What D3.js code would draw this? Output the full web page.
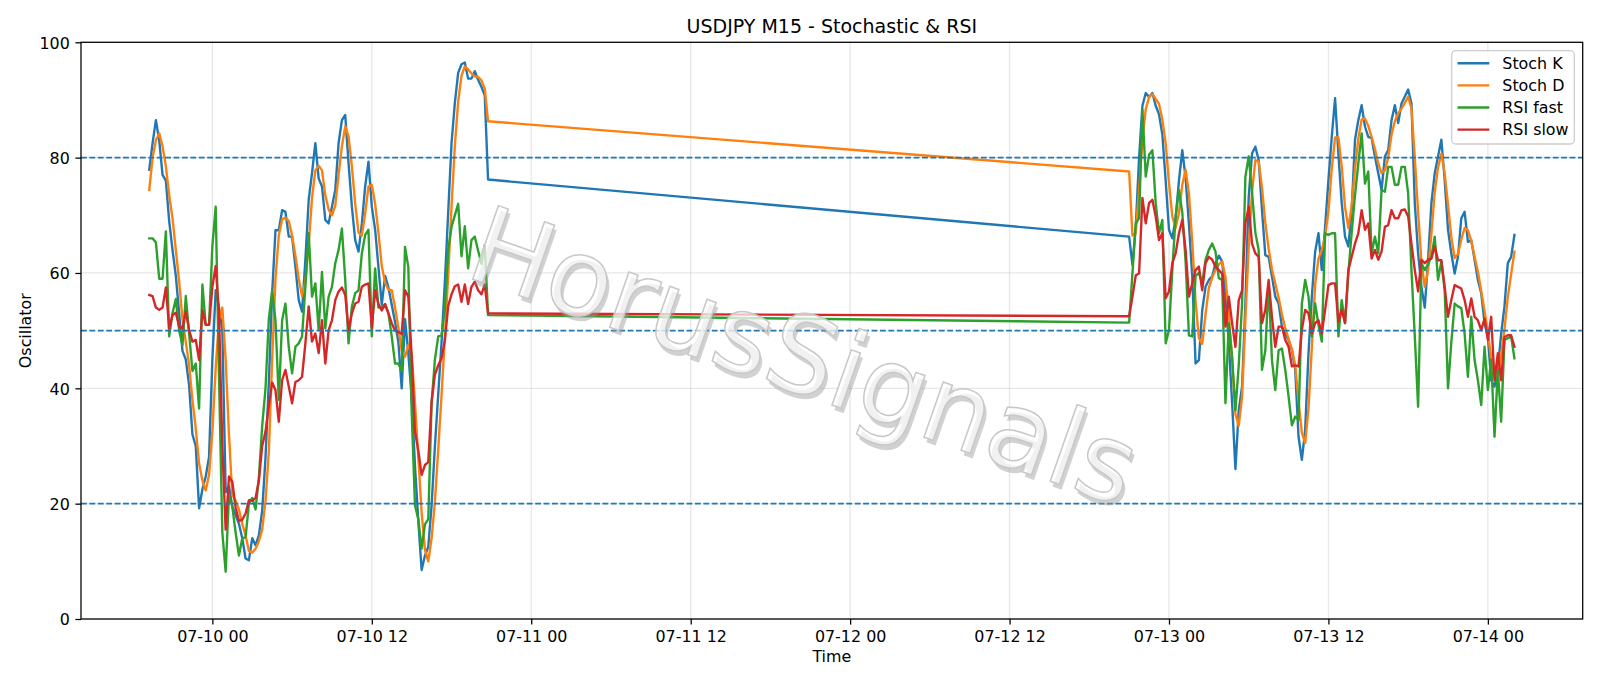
<!DOCTYPE html>
<html><head><meta charset="utf-8">
<script src="https://cdn.jsdelivr.net/npm/d3@7"></script>
<style>
body{margin:0;background:#fff}
svg{display:block}
text{font-family:"DejaVu Sans",sans-serif;fill:#000}
</style></head>
<body><svg id="chart" width="1600" height="686"></svg>
<script>
// ---- data (M15 bars; weekend gap between the two sessions) ----
const sessionStarts = ["2026-07-09T19:15:00Z", "2026-07-12T21:00:00Z"];
const sessionBars = [103, 117];

const stochK = [
77.9,82.5,86.5,83.0,77.0,76.0,69.0,64.0,59.5,53.0,46.5,45.0,40.5,32.0,30.0,19.2,22.5,24.7,28.1,45.0,
57.0,54.0,50.0,22.0,23.0,19.5,18.0,16.5,14.0,10.5,10.2,14.0,12.8,14.5,18.8,28.0,41.0,56.5,67.4,67.4,
70.9,70.6,66.3,66.3,61.1,55.3,53.3,62.3,72.7,77.3,82.5,76.4,75.0,69.2,68.6,71.5,74.4,82.5,86.5,87.4,
79.0,71.5,65.7,63.7,68.5,75.0,79.3,71.5,67.5,61.0,54.5,59.5,57.5,54.5,51.5,48.0,40.0,52.0,46.0,38.5,
26.5,17.0,8.5,11.0,12.5,19.7,30.0,39.0,48.0,58.5,70.5,82.5,89.5,94.7,96.2,96.5,93.7,93.7,95.0,93.5,
92.3,90.8,76.2,
66.3,61.4,68.0,80.0,89.0,91.2,90.5,91.2,89.0,87.5,84.0,76.0,67.5,66.0,69.5,76.0,81.3,76.5,68.5,59.5,
44.3,44.9,53.5,57.6,58.8,59.4,61.7,63.0,62.0,56.0,48.0,37.5,26.0,36.2,40.3,54.7,73.2,80.7,81.9,79.6,
70.9,63.1,62.8,59.4,55.9,54.7,50.7,49.5,48.4,46.6,43.2,31.6,27.6,32.8,46.1,55.9,63.7,66.9,60.5,68.0,
76.1,83.6,90.3,80.7,72.1,66.3,64.6,70.9,83.1,86.5,89.1,85.4,83.6,83.4,80.2,77.3,74.4,80.2,81.3,86.5,
89.1,86.0,89.4,90.6,91.8,89.4,72.1,63.4,57.6,54.0,62.3,72.1,77.3,80.2,83.1,76.1,67.5,63.4,59.9,62.8,
69.5,70.6,65.4,65.7,62.3,58.8,56.5,51.3,49.0,41.4,40.3,43.2,49.5,54.2,61.7,62.8,66.6];

const stochD = [
74.4,80.0,83.0,84.2,82.0,78.5,73.5,69.5,64.0,58.5,52.0,48.0,44.0,38.0,33.0,27.0,24.0,22.3,25.0,32.5,
43.5,52.0,54.0,45.0,32.0,21.5,20.5,19.0,16.5,14.5,11.8,11.5,12.2,13.5,15.5,20.5,29.0,45.0,59.0,66.5,
69.3,69.6,69.0,66.5,63.0,59.0,56.0,58.5,65.0,73.0,77.8,78.6,77.8,73.5,71.0,70.0,71.7,77.0,82.0,85.4,
83.7,78.5,72.0,67.0,66.5,70.3,75.0,75.3,72.0,67.0,61.2,58.3,57.1,57.0,54.0,50.5,46.5,45.5,47.5,46.0,
37.5,28.0,18.5,12.0,10.0,14.0,20.3,29.4,38.8,49.0,59.6,71.5,82.0,89.7,94.2,95.8,95.3,94.6,94.1,94.0,
93.4,92.0,86.3,
77.6,66.5,67.0,74.5,83.0,88.4,90.5,91.0,90.2,89.3,86.6,82.5,75.6,69.8,67.8,70.4,75.3,77.9,73.8,65.5,
55.0,48.7,47.7,52.8,57.4,59.2,60.5,61.5,62.0,59.3,53.0,45.0,35.5,33.5,38.5,52.0,64.5,74.0,79.6,79.3,
74.8,68.7,64.2,60.6,58.2,55.7,52.8,50.5,48.6,46.8,44.0,37.8,32.3,30.5,36.5,47.0,58.0,62.5,64.0,66.3,
70.7,78.0,83.5,83.5,78.5,71.4,67.8,71.7,78.0,83.3,86.6,86.8,85.5,83.6,81.5,79.0,77.3,77.8,80.0,84.0,
86.3,87.7,88.5,89.5,90.6,88.5,80.0,70.5,62.0,57.6,60.4,66.8,74.0,78.3,80.7,77.3,71.8,66.2,62.6,63.3,
65.8,67.8,67.4,65.6,62.8,60.2,56.9,53.4,49.7,45.2,42.5,42.1,45.8,50.2,55.8,59.8,63.7];

const rsiFast = [
66.0,66.0,65.3,59.0,59.0,67.2,49.0,53.0,55.5,50.0,47.5,56.0,49.5,43.0,44.3,36.5,58.0,51.0,51.0,64.6,
71.5,42.0,15.0,8.2,21.5,19.5,15.0,11.0,14.0,14.2,20.0,21.0,19.0,24.5,33.5,40.0,52.0,57.0,51.8,38.0,
51.8,54.7,47.2,42.6,47.2,47.8,49.0,57.6,66.9,55.9,58.2,50.1,60.2,50.4,55.9,57.6,61.7,64.0,67.7,58.8,
47.8,54.2,56.5,57.0,63.4,66.6,67.5,49.0,60.8,54.0,54.0,54.6,53.0,49.0,44.3,44.3,43.0,64.5,61.0,36.0,
19.7,17.3,12.2,16.4,17.3,37.5,45.0,49.0,49.2,53.8,64.0,68.0,70.0,72.0,62.9,68.1,60.8,65.7,66.3,63.9,
61.6,64.8,52.7,
51.4,60.0,68.6,69.5,88.3,76.7,80.5,81.3,72.1,66.9,69.2,47.8,50.1,60.5,69.8,74.4,70.5,62.0,49.2,49.0,
59.5,60.0,58.2,62.3,64.0,65.1,63.7,59.1,58.8,37.4,51.3,45.5,36.2,44.0,54.7,76.7,80.2,74.0,67.0,64.0,
43.2,46.6,58.2,44.9,39.7,46.6,46.9,43.2,38.6,33.6,35.1,34.5,54.7,58.8,55.9,49.0,54.7,51.0,48.1,66.9,
66.6,66.9,66.9,49.0,55.3,51.3,60.0,67.0,73.5,79.0,84.2,75.5,77.6,63.4,66.3,63.4,74.4,74.1,78.4,78.4,
75.3,75.3,78.4,78.4,73.8,60.5,49.0,36.8,61.7,60.5,61.5,62.8,66.3,58.8,62.0,57.0,40.0,48.0,54.7,54.2,
53.9,49.5,42.0,52.4,44.9,41.4,37.1,47.2,39.7,45.0,31.6,43.2,34.2,48.4,48.7,49.0,45.2];

const rsiSlow = [
56.2,56.0,54.0,53.6,54.0,57.5,50.4,52.7,53.1,50.7,50.4,53.3,50.1,48.1,48.4,44.9,53.6,51.0,51.0,57.6,
61.2,53.0,30.0,15.5,24.7,23.8,19.3,17.0,17.2,18.3,20.6,20.5,21.0,24.0,30.0,32.5,37.0,41.0,39.7,34.2,
41.4,43.2,40.3,37.4,41.1,41.4,42.0,47.8,54.2,48.1,49.5,46.1,51.8,44.3,50.1,51.8,55.3,56.8,57.5,56.2,
50.1,53.0,54.7,55.0,57.6,58.0,58.2,50.5,57.0,54.6,53.5,54.6,53.0,51.3,50.0,49.8,49.4,57.0,55.9,45.7,
32.5,29.2,25.0,26.7,27.2,37.6,42.4,44.0,45.2,48.3,54.3,56.3,57.7,58.0,55.0,58.0,54.6,57.6,58.5,57.0,
56.3,58.0,53.0,
52.5,55.9,59.6,59.9,73.0,68.6,72.1,72.7,69.8,65.7,66.9,55.6,56.8,61.7,63.4,66.9,69.2,64.0,55.9,58.2,
60.5,61.1,57.0,61.7,62.8,62.3,61.1,60.5,59.9,50.7,55.9,51.3,47.2,55.3,57.0,68.6,71.5,65.1,63.4,62.8,
51.3,53.6,58.8,52.4,47.2,50.7,50.7,48.4,47.2,43.8,44.0,43.8,50.1,53.6,53.0,49.5,51.3,51.8,49.5,53.6,
57.9,58.2,58.2,51.5,53.6,51.3,60.5,62.8,65.1,66.9,70.9,67.5,68.6,62.5,64.0,62.3,63.7,68.0,68.3,70.9,
69.5,69.5,70.9,71.0,69.8,65.1,60.5,56.8,62.3,61.7,62.3,62.5,64.6,62.2,62.2,57.6,52.4,55.3,57.9,57.6,
57.3,55.3,52.4,55.6,52.4,51.8,50.1,52.1,48.4,52.4,41.4,46.1,41.4,48.9,49.2,49.2,47.2];

const seriesNames = ["Stoch K", "Stoch D", "RSI fast", "RSI slow"];
const seriesColors = ["#1f77b4", "#ff7f0e", "#2ca02c", "#d62728"];
const xTickLabels = ["07-10 00","07-10 12","07-11 00","07-11 12","07-12 00","07-12 12","07-13 00","07-13 12","07-14 00"];
const yTickValues = [0, 20, 40, 60, 80, 100];
const levelValues = [80, 20, 50];
const titleText = "USDJPY M15 - Stochastic & RSI";
const watermarkText = "HorusSignals";

// ---- build timestamps ----
const STEP = 15 * 60 * 1000;
const times = [];
sessionStarts.forEach((s, k) => {
  const t0 = Date.parse(s);
  for (let j = 0; j < sessionBars[k]; j++) times.push(new Date(t0 + j * STEP));
});
const allSeries = [stochK, stochD, rsiFast, rsiSlow];

// ---- layout ----
const L = 81, R = 1582.7, T = 42.3, B = 619;
const FS = 15.9;

const svg = d3.select("#chart");
const tMin = times[0].getTime(), tMax = times[times.length - 1].getTime();
const pad = (tMax - tMin) * 0.05;
const x = d3.scaleUtc().domain([new Date(tMin - pad), new Date(tMax + pad)]).range([L, R]);
const y = d3.scaleLinear().domain([0, 100]).range([B, T]);

const parseTick = s => new Date(Date.UTC(2026, +s.slice(0,2) - 1, +s.slice(3,5), +s.slice(6,8)));
const xTickDates = xTickLabels.map(parseTick);

// grid
const grid = svg.append("g");
xTickDates.forEach(d => grid.append("line").attr("x1", x(d)).attr("x2", x(d)).attr("y1", T).attr("y2", B)
  .attr("stroke", "#b0b0b0").attr("stroke-opacity", 0.3).attr("stroke-width", 1.27));
yTickValues.forEach(v => grid.append("line").attr("x1", L).attr("x2", R).attr("y1", y(v)).attr("y2", y(v))
  .attr("stroke", "#b0b0b0").attr("stroke-opacity", 0.3).attr("stroke-width", 1.27));

// series lines
const line = d3.line().x((d, i) => x(times[i])).y(d => y(d));
allSeries.forEach((s, k) => {
  svg.append("path").datum(s).attr("d", line).attr("fill", "none")
    .attr("stroke", seriesColors[k]).attr("stroke-width", 2.38)
    .attr("stroke-linejoin", "round").attr("stroke-linecap", "square");
});

// level lines
levelValues.forEach(v => svg.append("line").attr("x1", L).attr("x2", R).attr("y1", y(v)).attr("y2", y(v))
  .attr("stroke", "#1f77b4").attr("stroke-width", 1.59).attr("stroke-dasharray", "5.87,2.54"));

// watermark
const wm = svg.append("g").attr("transform", "translate(792,391) rotate(19.3)");
wm.append("text").attr("x", 4).attr("y", 4).attr("text-anchor", "middle")
  .style("font-size", "107px").style("fill", "#9a9a9a").style("fill-opacity", 0.45).text(watermarkText);
wm.append("text").attr("text-anchor", "middle")
  .style("font-size", "107px").style("fill", "#ffffff").style("fill-opacity", 0.7)
  .style("stroke", "#c8c8c8").style("stroke-width", 1.5).text(watermarkText);

// axes
const xAxis = d3.axisBottom(x).tickValues(xTickDates).tickFormat((d, i) => xTickLabels[i])
  .tickSize(5.6).tickPadding(5.6);
const gx = svg.append("g").attr("transform", `translate(0,${B})`).call(xAxis);
const yAxis = d3.axisLeft(y).tickValues(yTickValues).tickFormat(d3.format("d")).tickSize(5.6).tickPadding(5.6);
const gy = svg.append("g").attr("transform", `translate(${L},0)`).call(yAxis);
[gx, gy].forEach(g => {
  g.select(".domain").remove();
  g.selectAll(".tick line").attr("stroke", "#000").attr("stroke-width", 1.27);
  g.selectAll(".tick text").style("font-size", FS + "px").style("font-family", "DejaVu Sans").attr("fill", "#000");
});
gx.selectAll(".tick text").attr("dy", null).attr("y", 22.5);
gy.selectAll(".tick text").attr("dy", "0.36em");

// spines
svg.append("rect").attr("x", L).attr("y", T).attr("width", R - L).attr("height", B - T)
  .attr("fill", "none").attr("stroke", "#000").attr("stroke-width", 1.27);

// legend
const lg = svg.append("g");
lg.append("rect").attr("x", 1451.7).attr("y", 50.7).attr("width", 122.6).attr("height", 93.3).attr("rx", 4)
  .attr("fill", "#fff").attr("fill-opacity", 0.8).attr("stroke", "#cccccc").attr("stroke-width", 1.27);
seriesNames.forEach((n, k) => {
  const cy = 63.3 + k * 22.1;
  lg.append("line").attr("x1", 1457.5).attr("x2", 1489.3).attr("y1", cy).attr("y2", cy)
    .attr("stroke", seriesColors[k]).attr("stroke-width", 2.38);
  lg.append("text").attr("x", 1502.3).attr("y", cy + 5.8).style("font-size", FS + "px").text(n);
});

// titles
svg.append("text").attr("x", (L + R) / 2).attr("y", 33).attr("text-anchor", "middle")
  .style("font-size", "19px").text(titleText);
svg.append("text").attr("x", (L + R) / 2).attr("y", 662).attr("text-anchor", "middle")
  .style("font-size", FS + "px").text("Time");
svg.append("text").attr("transform", `translate(31.3,${(T + B) / 2}) rotate(-90)`).attr("text-anchor", "middle")
  .style("font-size", FS + "px").text("Oscillator");
</script></body></html>
